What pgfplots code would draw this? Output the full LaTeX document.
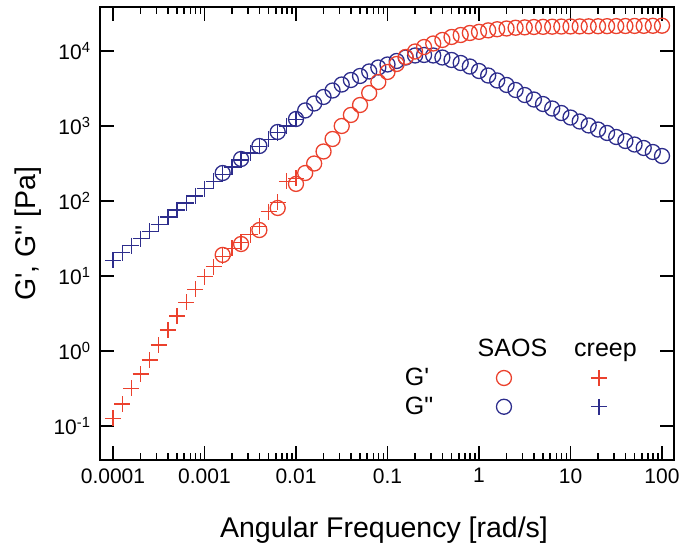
\documentclass[border=0pt]{standalone}
\usepackage{fontspec}
\setmainfont{Liberation Sans}
\usepackage{pgfplots}
\pgfplotsset{compat=1.18}
\definecolor{gred}{RGB}{235,65,45}
\definecolor{gblue}{RGB}{45,45,140}
\newcommand{\gp}{G\textquotesingle}
\newcommand{\gpp}{G\textquotedbl}
\tikzset{lgtext/.style={font=\fontsize{25}{25}\selectfont, inner sep=0pt, draw=none, fill=none},
  lgbox/.style={draw=none, fill=none}}
\begin{document}
\begin{tikzpicture}
\useasboundingbox (0,0) rectangle (681pt,546pt);
\begin{axis}[
  at={(100pt,86pt)}, anchor=south west,
  scale only axis, width=574pt, height=453pt,
  xmode=log, ymode=log,
  xmin=7.21e-5, xmax=135.2, ymin=0.0352, ymax=38600,
  axis line style={line width=1.8pt},
  every tick/.style={black, line width=1.6pt},
  tick align=inside,
  major tick length=14pt, minor tick length=7pt,
  xtick={1e-4,1e-3,1e-2,1e-1,1,10,100},
  xticklabels={0.0001,0.001,0.01,0.1,1,10,100},
  minor xtick={2e-4,3e-4,4e-4,5e-4,6e-4,7e-4,8e-4,9e-4,
               2e-3,3e-3,4e-3,5e-3,6e-3,7e-3,8e-3,9e-3,
               2e-2,3e-2,4e-2,5e-2,6e-2,7e-2,8e-2,9e-2,
               0.2,0.3,0.4,0.5,0.6,0.7,0.8,0.9,
               2,3,4,5,6,7,8,9,20,30,40,50,60,70,80,90},
  ytick={1e-1,1,10,100,1000,10000},
  yticklabels={10\textsuperscript{-1},10\textsuperscript{0},10\textsuperscript{1},10\textsuperscript{2},10\textsuperscript{3},10\textsuperscript{4}},
  yminorticks=false,
  ticklabel style={font=\fontsize{21}{21}\selectfont},
  xticklabel style={yshift=-5pt},
  yticklabel style={xshift=-6pt},
  xlabel={Angular Frequency [rad/s]},
  ylabel={\gp, \gpp\ [Pa]},
  label style={font=\fontsize{28.5}{30}\selectfont},
  xlabel style={at={(axis description cs:0.4948,-0.170)}, anchor=base},
  ylabel style={at={(axis description cs:-0.1254,0.5)}, anchor=center},
  legend columns=3,
  legend style={at={(0.4564,0.2762)}, anchor=north west, draw=none, fill=none,
    inner sep=0pt, outer sep=0pt, column sep=0pt, row sep=0pt,
    nodes={inner sep=0pt, draw=none, fill=none}},
]
% G'' SAOS
\addplot[only marks, mark=o, gblue, mark size=7.5pt, mark options={line width=1.3pt}, forget plot] coordinates {
(0.00158,236) (0.00251,363) (0.00398,541) (0.00631,832) (0.0100,1239)
(0.0126,1611) (0.0158,1995) (0.0200,2438) (0.0251,2972) (0.0316,3573)
(0.0398,4102) (0.0501,4645) (0.0631,5333) (0.0794,6026) (0.100,6607)
(0.126,7362) (0.158,8185) (0.200,8710) (0.251,8851) (0.316,8710)
(0.398,8185) (0.501,7586) (0.631,6918) (0.794,6209) (1.00,5408)
(1.26,4710) (1.58,4046) (2.00,3524) (2.51,3020) (3.16,2588)
(3.98,2254) (5.01,1963) (6.31,1710) (7.94,1489) (10.0,1297)
(12.6,1148) (15.8,1016) (20.0,897) (25.1,807) (31.6,713)
(39.8,631) (50.1,566) (63.1,509) (79.4,450) (100,398)
};
% G' SAOS
\addplot[only marks, mark=o, gred, mark size=7.5pt, mark options={line width=1.3pt}, forget plot] coordinates {
(0.00158,19.1) (0.00251,26.7) (0.00398,41.0) (0.00631,80.7) (0.0100,169)
(0.0126,236) (0.0158,316) (0.0200,457) (0.0251,671) (0.0316,1000)
(0.0398,1403) (0.0501,1905) (0.0631,2754) (0.0794,3864) (0.100,5248)
(0.126,6714) (0.158,8318) (0.200,9840) (0.251,11300) (0.316,12590)
(0.398,14030) (0.501,15380) (0.631,16330) (0.794,17380) (1.00,18000)
(1.26,18840) (1.58,19500) (2.00,19950) (2.51,20420) (3.16,20650)
(3.98,20890) (5.01,20990) (6.31,21090) (7.94,21180) (10.0,21230)
(12.6,21280) (15.8,21330) (20.0,21380) (25.1,21430) (31.6,21480)
(39.8,21530) (50.1,21580) (63.1,21630) (79.4,21680) (100,21730)
};
% G'' creep
\addplot[only marks, mark=+, gblue, mark size=8pt, mark options={line width=1.3pt}, forget plot] coordinates {
(0.000100,16.2) (0.000126,20.4) (0.000158,25.4) (0.000200,31.6) (0.000251,39.4)
(0.000316,49.0) (0.000398,61.0) (0.000501,75.9) (0.000631,94.4) (0.000794,117)
(0.00100,146) (0.00126,182) (0.00158,227) (0.00200,283) (0.00251,352)
(0.00316,436) (0.00398,537) (0.00501,661) (0.00631,813) (0.00794,1000) (0.0100,1230)
};
% G' creep
\addplot[only marks, mark=+, gred, mark size=8pt, mark options={line width=1.3pt}, forget plot] coordinates {
(0.000100,0.127) (0.000126,0.196) (0.000158,0.318) (0.000200,0.493) (0.000251,0.759)
(0.000316,1.20) (0.000398,1.91) (0.000501,2.93) (0.000631,4.47) (0.000794,6.65)
(0.00100,9.77) (0.00126,13.3) (0.00158,18.2) (0.00200,23.4) (0.00251,28.2)
(0.00316,35.5) (0.00398,45.7) (0.00501,72.4) (0.00631,95.5) (0.00794,182) (0.0100,200)
};
% legend: header row
\addlegendimage{legend image code/.code={\path[lgbox] (-47pt,-14.375pt) rectangle (47pt,14.375pt);}}
\addlegendentry{\mbox{}}
\addlegendimage{legend image code/.code={\path[lgbox] (-47pt,-14.375pt) rectangle (47pt,14.375pt); \node[lgtext, anchor=base] at (8.5pt,-7.5pt) {SAOS};}}
\addlegendentry{\mbox{}}
\addlegendimage{legend image code/.code={\path[lgbox] (-47pt,-14.375pt) rectangle (47pt,14.375pt); \node[lgtext, anchor=base] at (6.5pt,-7.5pt) {creep};}}
\addlegendentry{\mbox{}}
% G' row
\addlegendimage{legend image code/.code={\path[lgbox] (-47pt,-14.375pt) rectangle (47pt,14.375pt); \node[lgtext, anchor=base west] at (-4pt,-7.5pt) {\gp};}}
\addlegendentry{\mbox{}}
\addlegendimage{legend image code/.code={\path[lgbox] (-47pt,-14.375pt) rectangle (47pt,14.375pt); \draw[gred, line width=1.3pt, mark=o, mark size=7.5pt] plot coordinates {(0pt,0pt)};}}
\addlegendentry{\mbox{}}
\addlegendimage{legend image code/.code={\path[lgbox] (-47pt,-14.375pt) rectangle (47pt,14.375pt); \draw[gred, line width=1.3pt, mark=+, mark size=8pt] plot coordinates {(0pt,0pt)};}}
\addlegendentry{\mbox{}}
% G'' row
\addlegendimage{legend image code/.code={\path[lgbox] (-47pt,-14.375pt) rectangle (47pt,14.375pt); \node[lgtext, anchor=base west] at (-4pt,-7.5pt) {\gpp};}}
\addlegendentry{\mbox{}}
\addlegendimage{legend image code/.code={\path[lgbox] (-47pt,-14.375pt) rectangle (47pt,14.375pt); \draw[gblue, line width=1.3pt, mark=o, mark size=7.5pt] plot coordinates {(0pt,0pt)};}}
\addlegendentry{\mbox{}}
\addlegendimage{legend image code/.code={\path[lgbox] (-47pt,-14.375pt) rectangle (47pt,14.375pt); \draw[gblue, line width=1.3pt, mark=+, mark size=8pt] plot coordinates {(0pt,0pt)};}}
\addlegendentry{\mbox{}}
\end{axis}
\end{tikzpicture}
\end{document}
